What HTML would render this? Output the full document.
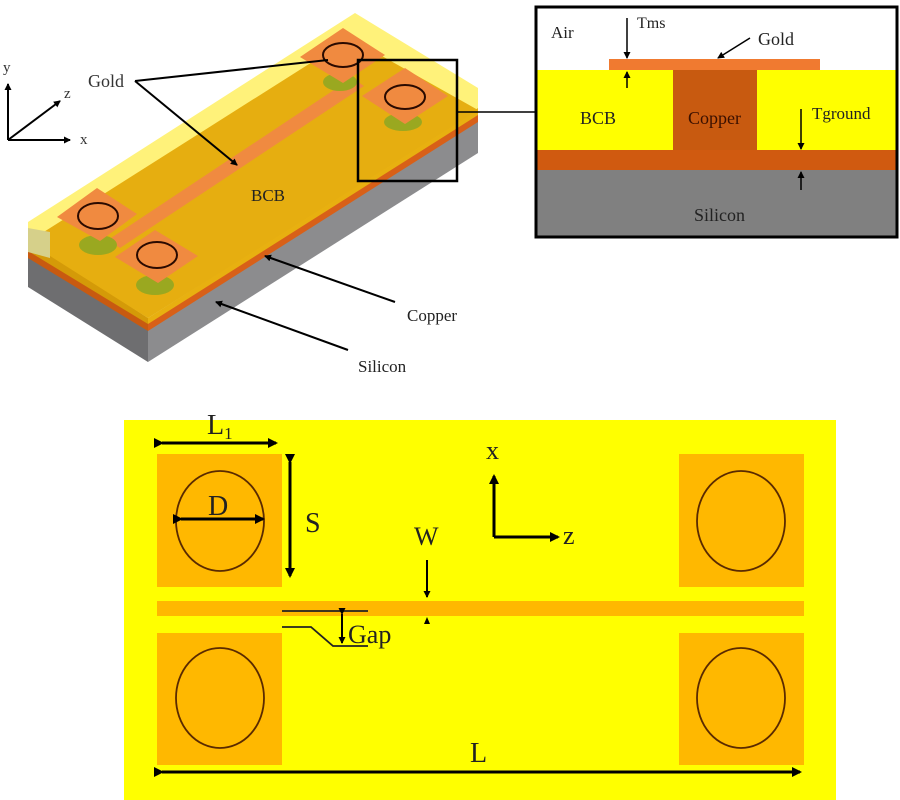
<!DOCTYPE html>
<html><head><meta charset="utf-8"><style>
html,body{margin:0;padding:0;background:#fff;}
svg{display:block;font-family:"Liberation Serif",serif;}
</style></head><body>
<svg width="900" height="800" viewBox="0 0 900 800" xmlns="http://www.w3.org/2000/svg">
<defs>
<marker id="ah" markerWidth="10" markerHeight="10" refX="8" refY="5" orient="auto" markerUnits="userSpaceOnUse"><path d="M0,0 L10,5 L0,10 z" fill="#000"/></marker>
<marker id="ahs" markerWidth="7" markerHeight="7" refX="6" refY="3.5" orient="auto" markerUnits="userSpaceOnUse"><path d="M0,0 L7,3.5 L0,7 z" fill="#000"/></marker>
</defs>

<!-- 3D block -->
<polygon points="28,240 148,318 148,362 28,287" fill="#6e6e70"/>
<polygon points="148,318 478,108 478,153 148,362" fill="#8c8c8e"/>
<polygon points="28,250 148,323 148,331 28,258" fill="#c85a10"/>
<polygon points="148,323 478,114 478,122 148,331" fill="#d86018"/>
<polygon points="28,240 148,318 148,324 28,251" fill="#d49a08"/>
<polygon points="148,318 478,108 478,115 148,324" fill="#e8b010"/>
<!-- light yellow (air) -->
<polygon points="28,222 355,13 478,88 478,108 148,318 28,240" fill="#fff27a"/>
<!-- BCB top face -->
<polygon points="28,242 350,38 478,110 148,318" fill="#e6ae10"/>
<polygon points="28,228 50,232 50,258 28,252" fill="#d6d08a"/>
<!-- strip -->
<polygon points="108,240 352,78 364,86 120,248" fill="#f08a40"/>
<!-- cylinders -->
<ellipse cx="98" cy="245" rx="19" ry="10" fill="#9aa820"/>
<ellipse cx="155" cy="285" rx="19" ry="10" fill="#9aa820"/>
<ellipse cx="340" cy="82" rx="17" ry="9" fill="#9aa820"/>
<ellipse cx="403" cy="122" rx="19" ry="9" fill="#9aa820"/>
<!-- pads -->
<polygon points="57,217 97,188 137,214 100,241" fill="#f08a40"/>
<polygon points="115,257 155,230 198,256 158,283" fill="#f08a40"/>
<polygon points="300,57 343,28 385,55 343,83" fill="#f08a40"/>
<polygon points="362,96 405,68 448,96 405,124" fill="#f08a40"/>
<ellipse cx="98" cy="216" rx="20" ry="13" fill="none" stroke="#2a0a00" stroke-width="2"/>
<ellipse cx="157" cy="255" rx="20" ry="13" fill="none" stroke="#2a0a00" stroke-width="2"/>
<ellipse cx="343" cy="55" rx="20" ry="12" fill="none" stroke="#2a0a00" stroke-width="2"/>
<ellipse cx="405" cy="97" rx="20" ry="12" fill="none" stroke="#2a0a00" stroke-width="2"/>
<rect x="358" y="60" width="99" height="121" fill="none" stroke="#000" stroke-width="2.5"/>
<line x1="457" y1="112" x2="535" y2="112" stroke="#000" stroke-width="1.5"/>
<text x="88" y="87" font-size="18" fill="#333">Gold</text>
<line x1="135" y1="81" x2="328" y2="60" stroke="#000" stroke-width="2"/>
<line x1="135" y1="81" x2="237" y2="165" stroke="#000" stroke-width="2" marker-end="url(#ahs)"/>
<text x="251" y="201" font-size="17" fill="#222">BCB</text>
<line x1="395" y1="302" x2="265" y2="256" stroke="#000" stroke-width="2" marker-end="url(#ahs)"/>
<text x="407" y="321" font-size="17" fill="#222">Copper</text>
<line x1="348" y1="350" x2="216" y2="302" stroke="#000" stroke-width="2" marker-end="url(#ahs)"/>
<text x="358" y="372" font-size="17" fill="#222">Silicon</text>
<line x1="8" y1="140" x2="8" y2="84" stroke="#000" stroke-width="2" marker-end="url(#ahs)"/>
<line x1="8" y1="140" x2="70" y2="140" stroke="#000" stroke-width="2" marker-end="url(#ahs)"/>
<line x1="8" y1="140" x2="60" y2="101" stroke="#000" stroke-width="2" marker-end="url(#ahs)"/>
<text x="3" y="72" font-size="15" fill="#333">y</text>
<text x="64" y="98" font-size="15" fill="#333">z</text>
<text x="80" y="144" font-size="15" fill="#333">x</text>

<!-- inset -->
<rect x="536" y="7" width="361" height="230" fill="#fff"/>
<rect x="536" y="70" width="361" height="80" fill="#ffff00"/>
<rect x="673" y="70" width="84" height="80" fill="#c85a10"/>
<rect x="609" y="59" width="211" height="11" fill="#f07a30"/>
<rect x="536" y="150" width="361" height="20" fill="#d05a10"/>
<rect x="536" y="170" width="361" height="67" fill="#808080"/>
<rect x="536" y="7" width="361" height="230" fill="none" stroke="#000" stroke-width="3"/>
<text x="551" y="38" font-size="17" fill="#222">Air</text>
<text x="637" y="28" font-size="16" fill="#222">Tms</text>
<line x1="627" y1="18" x2="627" y2="58" stroke="#000" stroke-width="1.5" marker-end="url(#ahs)"/>
<line x1="627" y1="88" x2="627" y2="72" stroke="#000" stroke-width="1.5" marker-end="url(#ahs)"/>
<text x="758" y="45" font-size="18" fill="#222">Gold</text>
<line x1="750" y1="38" x2="718" y2="58" stroke="#000" stroke-width="1.5" marker-end="url(#ahs)"/>
<text x="580" y="124" font-size="18" fill="#222">BCB</text>
<text x="688" y="124" font-size="18" fill="#3a1000">Copper</text>
<text x="812" y="119" font-size="17" fill="#222">Tground</text>
<line x1="801" y1="109" x2="801" y2="149" stroke="#000" stroke-width="1.5" marker-end="url(#ahs)"/>
<line x1="801" y1="190" x2="801" y2="172" stroke="#000" stroke-width="1.5" marker-end="url(#ahs)"/>
<text x="694" y="221" font-size="18" fill="#222">Silicon</text>

<!-- bottom panel -->
<rect x="124" y="420" width="712" height="380" fill="#ffff00"/>
<rect x="157" y="454" width="125" height="133" fill="#ffb800"/>
<rect x="679" y="454" width="125" height="133" fill="#ffb800"/>
<rect x="157" y="633" width="125" height="132" fill="#ffb800"/>
<rect x="679" y="633" width="125" height="132" fill="#ffb800"/>
<rect x="157" y="601" width="647" height="15" fill="#ffb800"/>
<ellipse cx="220" cy="521" rx="44" ry="50" fill="none" stroke="#5a2a00" stroke-width="1.8"/>
<ellipse cx="741" cy="521" rx="44" ry="50" fill="none" stroke="#5a2a00" stroke-width="1.8"/>
<ellipse cx="220" cy="698" rx="44" ry="50" fill="none" stroke="#5a2a00" stroke-width="1.8"/>
<ellipse cx="741" cy="698" rx="44" ry="50" fill="none" stroke="#5a2a00" stroke-width="1.8"/>
<text x="207" y="434" font-size="28" fill="#222">L<tspan font-size="17" dy="5">1</tspan></text>
<line x1="162" y1="443" x2="276" y2="443" stroke="#000" stroke-width="3" marker-start="url(#ah)" marker-end="url(#ah)"/>
<text x="208" y="515" font-size="28" fill="#222">D</text>
<line x1="181" y1="519" x2="263" y2="519" stroke="#000" stroke-width="3" marker-start="url(#ah)" marker-end="url(#ah)"/>
<line x1="290" y1="462" x2="290" y2="576" stroke="#000" stroke-width="3" marker-start="url(#ah)" marker-end="url(#ah)"/>
<text x="305" y="532" font-size="28" fill="#222">S</text>
<text x="414" y="545" font-size="26" fill="#222">W</text>
<line x1="427" y1="560" x2="427" y2="597" stroke="#000" stroke-width="2" marker-end="url(#ahs)"/>
<path d="M424,624 L427,617 L430,624 z" fill="#000"/>
<text x="486" y="459" font-size="26" fill="#222">x</text>
<line x1="494" y1="537" x2="494" y2="476" stroke="#000" stroke-width="3" marker-end="url(#ah)"/>
<line x1="494" y1="537" x2="558" y2="537" stroke="#000" stroke-width="3" marker-end="url(#ah)"/>
<text x="563" y="544" font-size="26" fill="#222">z</text>
<line x1="282" y1="611" x2="368" y2="611" stroke="#222" stroke-width="1.8"/>
<polyline points="282,627 311,627 333,646 368,646" fill="none" stroke="#222" stroke-width="1.8"/>
<line x1="342" y1="614" x2="342" y2="643" stroke="#000" stroke-width="2" marker-start="url(#ahs)" marker-end="url(#ahs)"/>
<text x="348" y="643" font-size="26" fill="#222">Gap</text>
<text x="470" y="762" font-size="28" fill="#222">L</text>
<line x1="162" y1="772" x2="800" y2="772" stroke="#000" stroke-width="3" marker-start="url(#ah)" marker-end="url(#ah)"/>
</svg>
</body></html>
